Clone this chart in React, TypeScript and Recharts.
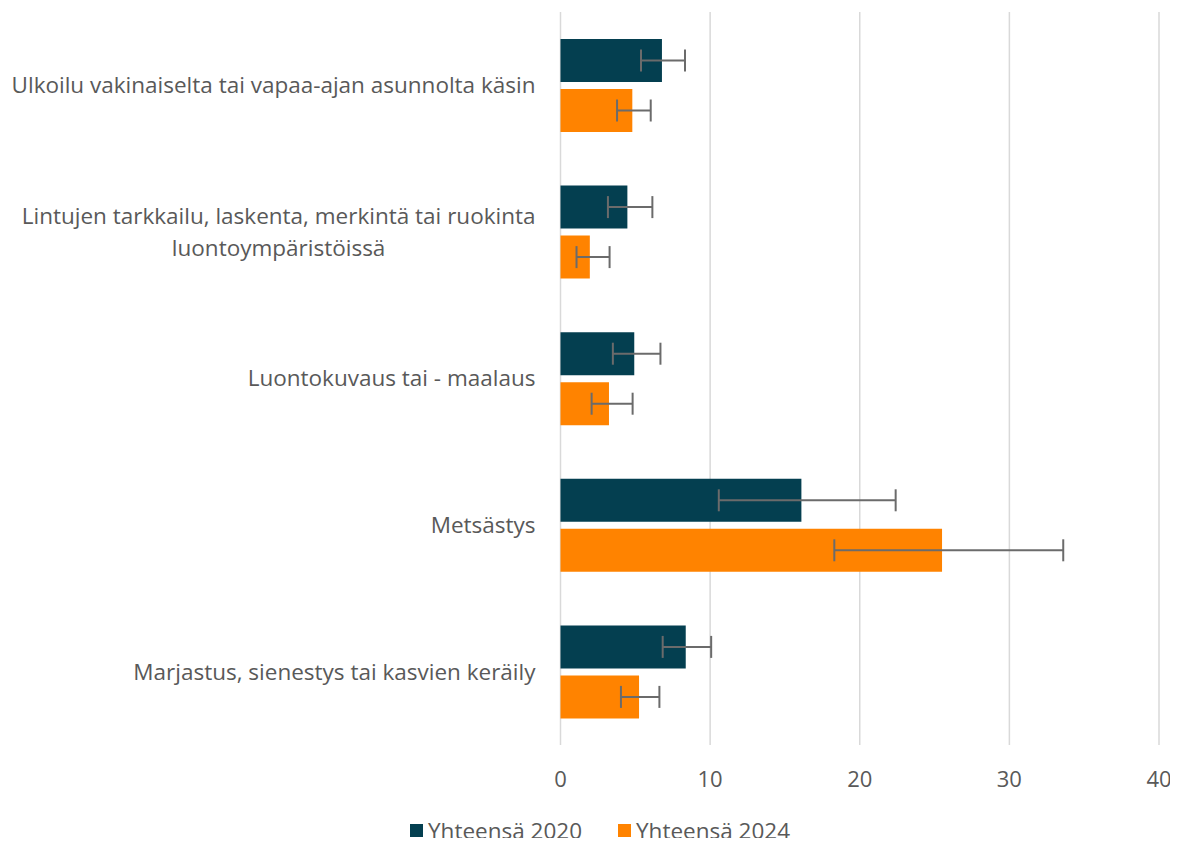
import React from "react";
import { BarChart, Bar, XAxis, YAxis, CartesianGrid, ErrorBar, Legend } from "recharts";

const categories = [
  "Ulkoilu vakinaiselta tai vapaa-ajan asunnolta käsin",
  "Lintujen tarkkailu, laskenta, merkintä tai ruokinta\nluontoympäristöissä",
  "Luontokuvaus tai - maalaus",
  "Metsästys",
  "Marjastus, sienestys tai kasvien keräily",
];
const values2020 = [6.78, 4.47, 4.93, 16.1, 8.37];
const low2020 = [5.38, 3.17, 3.5, 10.58, 6.83];
const high2020 = [8.32, 6.14, 6.68, 22.4, 10.07];
const values2024 = [4.8, 1.96, 3.24, 25.5, 5.25];
const low2024 = [3.78, 1.07, 2.08, 18.3, 4.04];
const high2024 = [6.03, 3.28, 4.82, 33.6, 6.61];
const xTicks = [0, 10, 20, 30, 40];
const seriesNames = ["Yhteensä 2020", "Yhteensä 2024"];
const colors = ["#043F50", "#FF8300"];

const data = categories.map((c, i) => ({
  name: c,
  v2020: values2020[i],
  e2020: [values2020[i] - low2020[i], high2020[i] - values2020[i]],
  v2024: values2024[i],
  e2024: [values2024[i] - low2024[i], high2024[i] - values2024[i]],
}));

const FONT = "'Open Sans', 'Noto Sans', sans-serif";
const FS = 22.5;
const TEXT = "#595959";

let ctx: CanvasRenderingContext2D | null = null;
function measure(t: string) {
  if (!ctx) ctx = document.createElement("canvas").getContext("2d");
  if (!ctx) return t.length * 11;
  ctx.font = `${FS}px ${FONT}`;
  return ctx.measureText(t).width;
}

const YTick = (props: any) => {
  const { x, y, payload } = props;
  const lines = String(payload.value).split("\n");
  const lh = 32;
  if (lines.length === 1) {
    return (
      <text x={x} y={y} dy="0.35em" textAnchor="end" fill={TEXT} fontSize={FS} fontFamily={FONT}>
        {lines[0]}
      </text>
    );
  }
  const maxW = Math.max(...lines.map(measure));
  const cx = x - maxW / 2;
  const y0 = y - ((lines.length - 1) * lh) / 2;
  return (
    <text x={cx} y={y0} textAnchor="middle" fill={TEXT} fontSize={FS} fontFamily={FONT}>
      {lines.map((l, i) => (
        <tspan key={i} x={cx} y={y0 + i * lh} dy="0.35em">
          {l}
        </tspan>
      ))}
    </text>
  );
};

const LegendContent = () => (
  <svg width={1178} height={30} style={{ display: "block", overflow: "visible" }}>
    {seriesNames.map((n, i) => {
      const x0 = i === 0 ? 410 : 618;
      return (
        <g key={n}>
          <rect x={x0} y={8} width={13} height={13} fill={colors[i]} />
          <text x={x0 + 18} y={15} dy="0.35em" fill={TEXT} fontSize={FS} fontFamily={FONT}>
            {n}
          </text>
        </g>
      );
    })}
  </svg>
);

export default function App() {
  return (
    <div style={{ margin: -8, width: 1178, height: 846, background: "#fff" }}>
      <BarChart
        width={1178}
        height={846}
        data={data}
        layout="vertical"
        margin={{ top: 12, right: 19, bottom: 0, left: 0 }}
        barSize={43}
        barGap={7}
      >
        <CartesianGrid horizontal={false} vertical={true} stroke="#D9D9D9" strokeWidth={1.5} />
        <XAxis
          type="number"
          domain={[0, 40]}
          ticks={xTicks}
          axisLine={false}
          tickLine={false}
          tickSize={0}
          tickMargin={26}
          height={71}
          tick={{ fill: TEXT, fontSize: 22, fontFamily: FONT }}
        />
        <YAxis
          type="category"
          dataKey="name"
          width={560.5}
          axisLine={false}
          tickLine={false}
          tickSize={0}
          tickMargin={25}
          tick={<YTick />}
          interval={0}
        />
        <Legend
          verticalAlign="bottom"
          content={<LegendContent />}
          wrapperStyle={{ height: 30, left: 0, width: 1178 }}
        />
        <Bar dataKey="v2020" name={seriesNames[0]} fill={colors[0]} isAnimationActive={false}>
          <ErrorBar dataKey="e2020" direction="x" width={11} stroke="#6B6B6B" strokeWidth={2} />
        </Bar>
        <Bar dataKey="v2024" name={seriesNames[1]} fill={colors[1]} isAnimationActive={false}>
          <ErrorBar dataKey="e2024" direction="x" width={11} stroke="#6B6B6B" strokeWidth={2} />
        </Bar>
      </BarChart>
    </div>
  );
}
